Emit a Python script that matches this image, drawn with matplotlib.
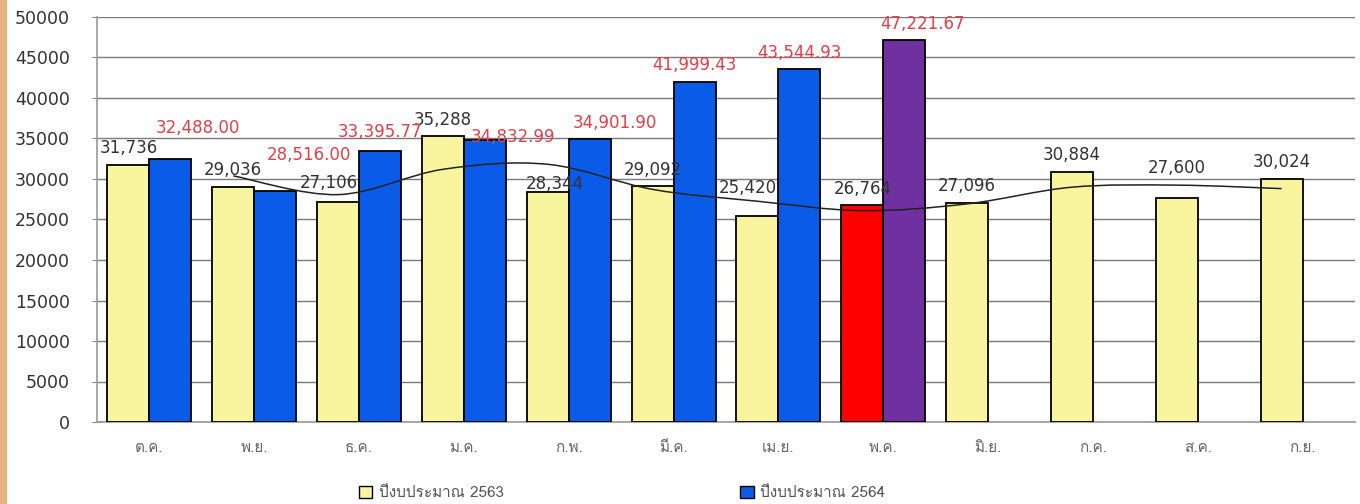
import numpy as np
import pandas as pd
import matplotlib
matplotlib.use("Agg")
import matplotlib.pyplot as plt
from matplotlib import font_manager, ft2font
from matplotlib.patches import Patch, Rectangle
from matplotlib.path import Path
from matplotlib.patches import PathPatch

months = ["ต.ค.", "พ.ย.", "ธ.ค.", "ม.ค.", "ก.พ.", "มี.ค.",
          "เม.ย.", "พ.ค.", "มิ.ย.", "ก.ค.", "ส.ค.", "ก.ย."]
fy2563 = [31736, 29036, 27106, 35288, 28344, 29092,
          25420, 26764, 27096, 30884, 27600, 30024]
fy2564 = [32488.00, 28516.00, 33395.77, 34832.99,
          34901.90, 41999.43, 43544.93, 47221.67]
legend_labels = ["ปีงบประมาณ 2563", "ปีงบประมาณ 2564"]

# label nudges (points), hand placed like the original
dx63 = [0, 0, -7, 0, 5, 0, -7, 0, 0, 0, 0, 0]
dy63 = [12, 12, 14, 12, 6, 12, 20, 12, 12, 12, 22, 12]
dx64 = [20, 24, 0, 20, 18, 0, 0, 13]
dy64 = [22, 26, 14, 2, 12, 12, 12, 11]


def find_thai_font():
    for f in font_manager.fontManager.ttflist:
        try:
            if 0x0E1B in ft2font.FT2Font(f.fname).get_charmap():
                return f.name
        except Exception:
            pass
    return None


thai = find_thai_font()
fams = [thai, "DejaVu Sans"] if thai else ["DejaVu Sans"]
plt.rcParams["font.family"] = fams

fig = plt.figure(figsize=(13.6, 5.04), dpi=100)
ax = fig.add_axes([97 / 1360, 82 / 504, 1258 / 1360, 405 / 504])

x = np.arange(len(months))
w = 0.4
c63 = ["#F8F59E"] * len(months)
c63[7] = "#FF0000"
c64 = ["#0A5CE8"] * len(fy2564)
c64[7] = "#7030A0"

ax.bar(x - w / 2, fy2563, w, color=c63, edgecolor="black", linewidth=1.3, zorder=3)
ax.bar(x[:len(fy2564)] + w / 2, fy2564, w, color=c64, edgecolor="black",
       linewidth=1.3, zorder=3)

# 2-period moving average trendline of FY2563, drawn smooth over the yellow bars
ma = pd.Series(fy2563).rolling(2).mean().to_numpy()
px = x[1:] - w / 2
py = ma[1:]
verts = [(px[0], py[0])]
codes = [Path.MOVETO]
for i in range(len(px) - 1):
    p0 = (px[max(i - 1, 0)], py[max(i - 1, 0)])
    p1 = (px[i], py[i])
    p2 = (px[i + 1], py[i + 1])
    p3 = (px[min(i + 2, len(px) - 1)], py[min(i + 2, len(px) - 1)])
    c1 = (p1[0] + (p2[0] - p0[0]) / 6, p1[1] + (p2[1] - p0[1]) / 6)
    c2 = (p2[0] - (p3[0] - p1[0]) / 6, p2[1] - (p3[1] - p1[1]) / 6)
    verts += [c1, c2, p2]
    codes += [Path.CURVE4] * 3
ax.add_patch(PathPatch(Path(verts, codes), fill=False, edgecolor="#222222",
                       linewidth=1.1, zorder=4))

for i, v in enumerate(fy2563):
    ax.annotate(f"{v:,}", (x[i] - w / 2, v), xytext=(dx63[i], dy63[i]),
                textcoords="offset points", ha="center", va="center",
                fontsize=12, color="#333333", family="DejaVu Sans", zorder=5)
for i, v in enumerate(fy2564):
    ax.annotate(f"{v:,.2f}", (x[i] + w / 2, v), xytext=(dx64[i], dy64[i]),
                textcoords="offset points", ha="center", va="center",
                fontsize=12, color="#E0404A", family="DejaVu Sans", zorder=5)

ax.set_xlim(-0.5, len(months) - 0.5)
ax.set_ylim(0, 50000)
ax.set_yticks(np.arange(0, 50001, 5000))
ax.set_yticklabels([str(t) for t in range(0, 50001, 5000)], family="DejaVu Sans")
ax.set_xticks(x)
ax.set_xticklabels(months)
ax.tick_params(axis="y", direction="inout", length=7, color="#888888",
               labelsize=12.5, labelcolor="#333333", pad=16)
ax.tick_params(axis="x", length=0, labelsize=11, labelcolor="#666666", pad=14)
ax.grid(axis="y", color="#7A7A7A", linewidth=1.0, zorder=0)
for s in ["top", "right"]:
    ax.spines[s].set_visible(False)
for s in ["left", "bottom"]:
    ax.spines[s].set_color("#999999")
    ax.spines[s].set_linewidth(1.2)

handles = [Patch(facecolor="#F8F59E", edgecolor="black"),
           Patch(facecolor="#0A5CE8", edgecolor="black")]
fig.legend(handles, legend_labels, loc="center", bbox_to_anchor=(622 / 1360, 11 / 504),
           ncol=2, frameon=False, fontsize=11, handlelength=0.9, handleheight=0.9,
           handletextpad=0.4, columnspacing=15.5, labelcolor="#555555")

fig.add_artist(Rectangle((0, 0), 6 / 1360, 1, transform=fig.transFigure,
                         color="#E2B384", zorder=0))

fig.savefig("out.png", dpi=100)
